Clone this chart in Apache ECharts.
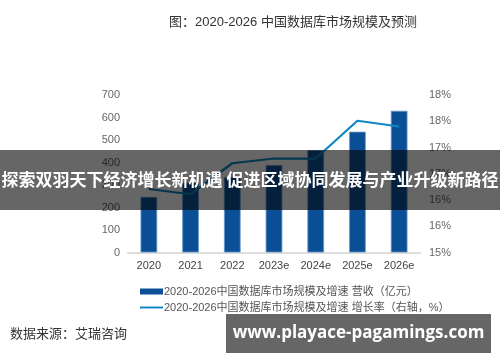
<!DOCTYPE html>
<html>
<head>
<meta charset="utf-8">
<script src="https://cdn.jsdelivr.net/npm/echarts@6/dist/echarts.min.js"></script>
<style>html,body{margin:0;padding:0;background:#fff}#c{width:500px;height:362px}</style>
</head>
<body>
<div id="c"></div>
<script>
const categories = ['2020', '2021', '2022', '2023e', '2024e', '2025e', '2026e'];
const revenue = [247, 311, 336, 389, 455, 537, 630];
const growthRate = [16.21, 16.11, 16.70, 16.79, 16.79, 17.51, 17.40];
const leftTicks = { min: 0, max: 700, interval: 100 };
const rightTicks = { min: 15, max: 18, interval: 0.5 };
const barName = '2020-2026中国数据库市场规模及增速 营收（亿元）';
const lineName = '2020-2026中国数据库市场规模及增速 增长率（右轴，%）';
const titleText = '图：2020-2026 中国数据库市场规模及预测';
const sourceText = '数据来源：艾瑞咨询';
const bannerText = '探索双羽天下经济增长新机遇 促进区域协同发展与产业升级新路径';
const watermarkText = 'www.playace-pagamings.com';

const font = '"Liberation Sans", "Noto Sans CJK SC", sans-serif';
const cjk = '"Noto Sans CJK SC", sans-serif';
const chart = echarts.init(document.getElementById('c'), null, { renderer: 'canvas' });
chart.setOption({
  animation: false,
  backgroundColor: '#fff',
  textStyle: { fontFamily: font },
  title: {
    text: titleText, left: 288, top: 11, textAlign: 'center',
    textStyle: { fontSize: 13, fontWeight: 'normal', color: '#333', fontFamily: font }
  },
  grid: { left: 128, right: 80, top: 95, bottom: 109.5 },
  legend: {
    orient: 'vertical', left: 135, top: 281, itemGap: 5, itemWidth: 23, itemHeight: 6,
    textStyle: { fontSize: 11, color: '#555', fontFamily: font, padding: [0, 0, 0, -4] },
    data: [
      { name: barName, icon: 'rect', itemStyle: { borderWidth: 0 } },
      { name: lineName, icon: 'path://M0,4L24,4L24,6L0,6Z' }
    ]
  },
  xAxis: {
    type: 'category', data: categories,
    axisLine: { lineStyle: { color: '#ddd', width: 2 } },
    axisTick: { show: false },
    axisLabel: { color: '#444', fontSize: 11, margin: 8, fontFamily: font }
  },
  yAxis: [
    {
      type: 'value', min: leftTicks.min, max: leftTicks.max, interval: leftTicks.interval,
      splitLine: { show: false }, axisLine: { show: false }, axisTick: { show: false },
      axisLabel: { color: '#666', fontSize: 11, margin: 8, fontFamily: font }
    },
    {
      type: 'value', min: rightTicks.min, max: rightTicks.max, interval: rightTicks.interval,
      splitLine: { show: false }, axisLine: { show: false }, axisTick: { show: false },
      axisLabel: { color: '#666', fontSize: 11, margin: 9, fontFamily: font,
        formatter: v => Math.round(v) + '%' }
    }
  ],
  series: [
    {
      name: barName, type: 'bar', data: revenue, yAxisIndex: 0, barWidth: '40%',
      itemStyle: { color: '#0b5096', borderColor: '#6b9bcc', borderWidth: 0.8 }
    },
    {
      name: lineName, type: 'line', data: growthRate, yAxisIndex: 1,
      showSymbol: false, symbol: 'none',
      lineStyle: { color: '#0f85c4', width: 2.2 },
      itemStyle: { color: '#0f85c4' }
    }
  ],
  graphic: [
    {
      type: 'text', left: 10, top: 327,
      style: { text: sourceText, fill: '#333', font: '13px ' + cjk }
    },
    {
      type: 'rect', shape: { x: 0, y: 150, width: 500, height: 60 },
      style: { fill: 'rgba(0,0,0,0.6)' }, z: 100
    },
    {
      type: 'text', x: 250, y: 180, z: 101,
      style: { text: bannerText, fill: '#fff', font: 'bold 17px ' + cjk,
        textAlign: 'center', textVerticalAlign: 'middle' }
    },
    {
      type: 'rect', shape: { x: 226, y: 314, width: 265, height: 39 },
      style: { fill: 'rgba(0,0,0,0.6)' }, z: 100
    },
    {
      type: 'text', x: 358.5, y: 333.5, z: 101,
      style: { text: watermarkText, fill: '#fff', font: 'bold 17px "Open Sans", "DejaVu Sans", sans-serif',
        textAlign: 'center', textVerticalAlign: 'middle' }
    }
  ]
});
</script>
</body>
</html>
